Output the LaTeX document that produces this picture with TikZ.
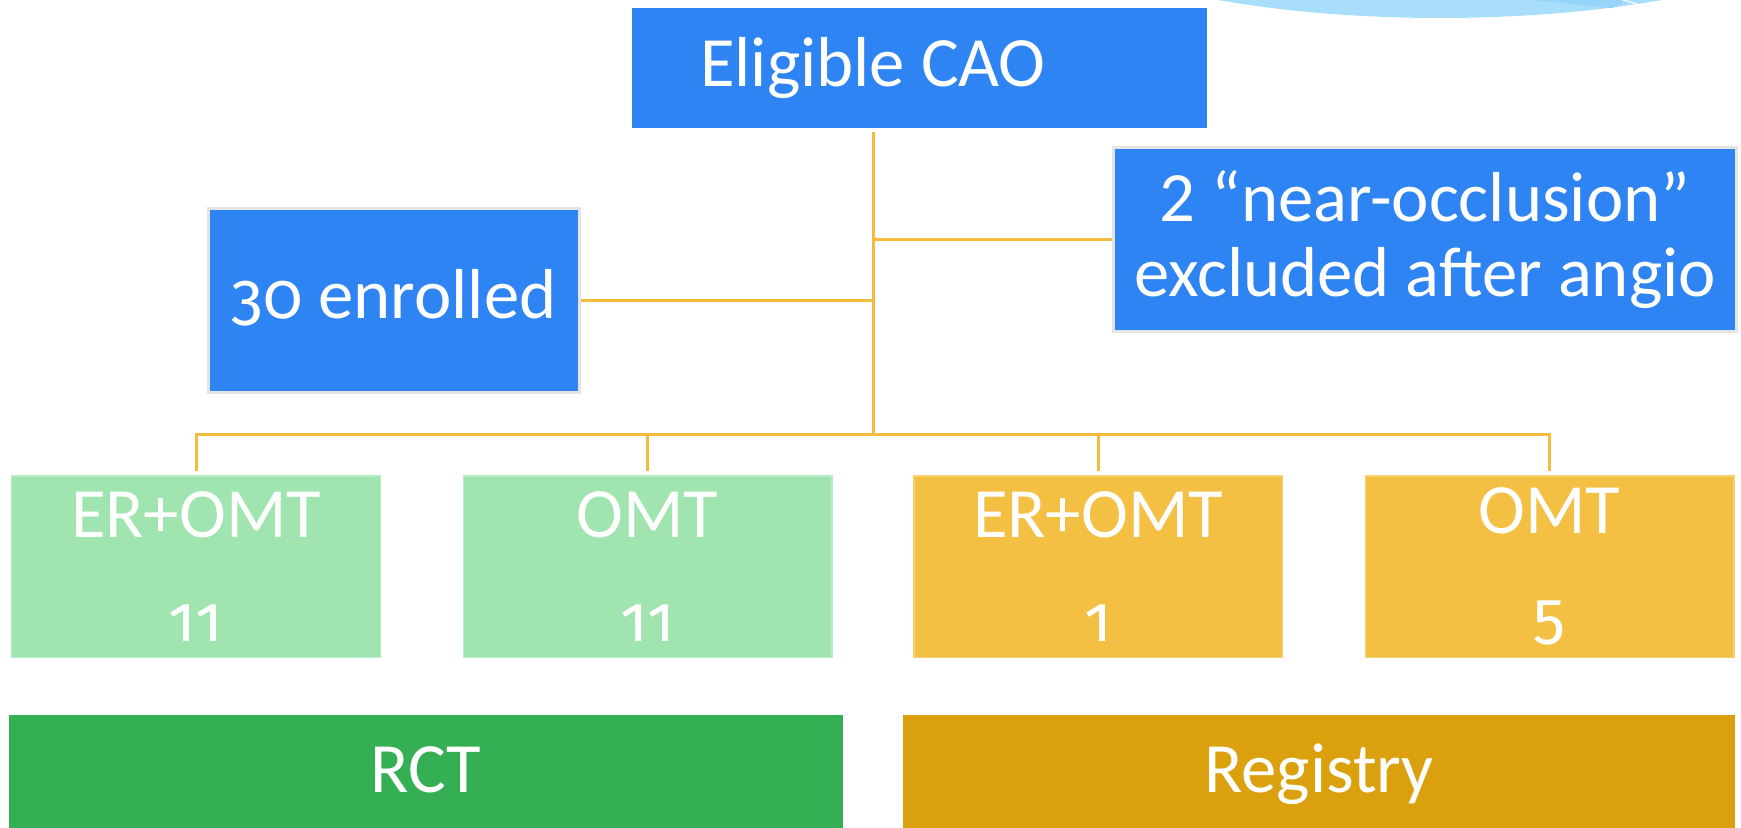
\documentclass[tikz,border=0pt]{standalone}
\usepackage{fontspec}
\setmainfont{Carlito}
\newfontfamily\olddigits{Fira Sans}[Numbers=OldStyle, Scale=0.92]

\definecolor{boxblue}{HTML}{2F84F3}
\definecolor{edgegray}{HTML}{E4E4E4}
\definecolor{linegold}{HTML}{F4BB3C}
\definecolor{mint}{HTML}{A0E4AF}
\definecolor{mintedge}{HTML}{B8ECC4}
\definecolor{amber}{HTML}{F4C043}
\definecolor{amberedge}{HTML}{F7CF6C}
\definecolor{rctgreen}{HTML}{34AF53}
\definecolor{reggold}{HTML}{DAA00D}
\definecolor{sky}{HTML}{A9DEFB}
\definecolor{skydeep}{HTML}{95D5FA}

\tikzset{
  txt/.style={text=white, font=\fontsize{71}{76}\selectfont, inner sep=0pt},
  single/.style={text height=51bp, text depth=15bp},
  bluebox/.style={txt, rectangle, fill=boxblue, draw=edgegray, line width=3bp, align=center},
  plainblue/.style={rectangle, fill=boxblue, inner sep=0pt},
  armbox/.style={txt, rectangle, align=center, line width=1.5bp,
    font=\fontsize{71}{105}\selectfont, minimum width=368.5bp, minimum height=181.5bp},
  rctbox/.style={txt, single, rectangle, fill=rctgreen, minimum height=119bp},
  regbox/.style={txt, single, rectangle, fill=reggold, minimum height=119bp},
  conn/.style={draw=linegold, line width=3bp}
}

\begin{document}
\begin{tikzpicture}[x=1bp, y=-1bp]
\useasboundingbox (0,0) rectangle (1741,828);

% cloud shape peeking in at the top edge
\fill[sky] (1440,-132) ellipse [x radius=467, y radius=150];
\fill[skydeep] (1522,-1) .. controls (1565,3) and (1595,7) .. (1612,8)
  -- (1622,4) -- (1624,-1) -- cycle;
\draw[white, line width=1.2bp] (1620,-1) -- (1640,5);

% top of the tree
\node[plainblue, minimum width=575bp, minimum height=120bp] (elig) at (919.5,68) {};
\node[txt, single] (eligtext) at (873,68) {Eligible CAO};

\node[bluebox, single, minimum width=371bp, minimum height=184bp] (enr) at (394,300.5)
  {{\olddigits 30} enrolled};
\node[bluebox, minimum width=623bp, minimum height=184bp] (excl) at (1425,239.5)
  {2 “near-occlusion”\\excluded after angio};

% study arms
\node[armbox, fill=mint, draw=mintedge] (b1) at (196,566.5) {ER+OMT\\{\olddigits 11}};
\node[armbox, fill=mint, draw=mintedge] (b2) at (647.5,566.5) {OMT\\{\olddigits 11}};
\node[armbox, fill=amber, draw=amberedge] (b3) at (1098,566.5) {ER+OMT\\{\olddigits 1}};
\node[armbox, fill=amber, draw=amberedge] (b4) at (1549.5,566.5) {OMT\\{\olddigits 5}};

% groupings
\node[rctbox, minimum width=834bp] (rct) at (426,774.5) {RCT};
\node[regbox, minimum width=832bp] (reg) at (1319,774.5) {Registry};

% connectors
\coordinate (hub) at (873,434);
\draw[conn, shorten <=4bp] (elig.south -| hub) -- (hub);
\draw[conn] (enr.east) -- (enr.east -| hub);
\draw[conn] (excl.west) -- (excl.west -| hub);
\draw[conn, shorten <=4bp, shorten >=4bp] (b1.north) |- (hub) -| (b4.north);
\draw[conn, shorten <=4bp] (b2.north) -- (b2.north |- hub);
\draw[conn, shorten <=4bp] (b3.north) -- (b3.north |- hub);
\end{tikzpicture}
\end{document}
